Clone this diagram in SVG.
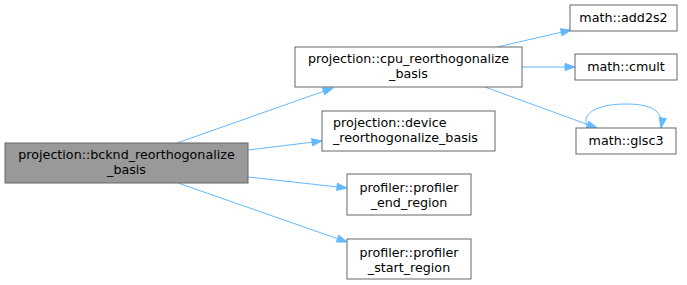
<svg xmlns="http://www.w3.org/2000/svg" width="687" height="285" viewBox="0 0 687 285">
<style>
.n rect{fill:#ffffff;stroke:#666666;stroke-width:1}
.n.main rect{fill:#999999}
text{font-family:"DejaVu Sans","Noto Sans",sans-serif;font-size:12.7px;fill:#000000}
.c{text-anchor:middle}
.e{fill:none;stroke:#63b8ff;stroke-width:1;marker-end:url(#ah)}
</style>
<defs>
<marker id="ah" markerUnits="userSpaceOnUse" markerWidth="11" markerHeight="8" refX="10" refY="3.5" orient="auto" overflow="visible">
<path d="M0,0 L10,3.5 L0,7 z" fill="#63b8ff" stroke="#63b8ff" stroke-width="1"/>
</marker>
</defs>
<rect width="687" height="285" fill="#ffffff"/>
<g id="edges">
<path class="e" d="M177,143 L333,88"/>
<path class="e" d="M248,150 L322,141"/>
<path class="e" d="M248,177 L347,188"/>
<path class="e" d="M178,183 L347,242"/>
<path class="e" d="M497,47 L571,30"/>
<path class="e" d="M522,67 L575,67"/>
<path class="e" d="M485,87 L597,128"/>
<path class="e" d="M588,128 C580,114 596,104 626,104 C650,104 664,110 661,128"/>
</g>
<g id="node-main" class="n main">
<rect x="5" y="143" width="243" height="40"/>
<text class="c" x="126.5" y="159">projection::bcknd_reorthogonalize</text>
<text class="c" x="126.5" y="174">_basis</text>
</g>
<g id="node-cpu" class="n">
<rect x="295" y="47" width="227" height="40"/>
<text class="c" x="408.5" y="63">projection::cpu_reorthogonalize</text>
<text class="c" x="408.5" y="78">_basis</text>
</g>
<g id="node-device" class="n">
<rect x="322" y="111" width="173" height="40"/>
<text x="333" y="127">projection::device</text>
<text x="333" y="142">_reorthogonalize_basis</text>
</g>
<g id="node-add2s2" class="n">
<rect x="570" y="5" width="107" height="26"/>
<text class="c" x="623.5" y="22">math::add2s2</text>
</g>
<g id="node-cmult" class="n">
<rect x="575" y="54" width="102" height="26"/>
<text class="c" x="626" y="71">math::cmult</text>
</g>
<g id="node-glsc3" class="n">
<rect x="576" y="128" width="100" height="26"/>
<text class="c" x="626" y="145">math::glsc3</text>
</g>
<g id="node-prof-end" class="n">
<rect x="347" y="174" width="124" height="41"/>
<text class="c" x="409" y="192">profiler::profiler</text>
<text class="c" x="409" y="207">_end_region</text>
</g>
<g id="node-prof-start" class="n">
<rect x="347" y="239" width="124" height="40"/>
<text class="c" x="409" y="257">profiler::profiler</text>
<text class="c" x="409" y="272">_start_region</text>
</g>
</svg>
